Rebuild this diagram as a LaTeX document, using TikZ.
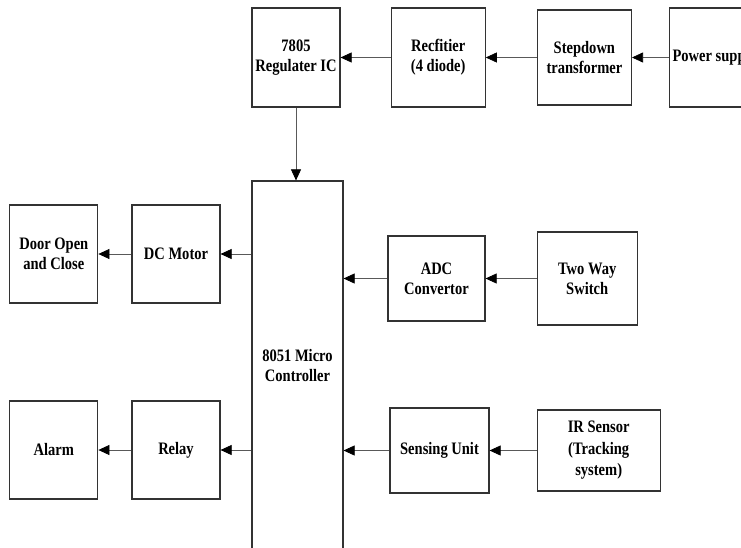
\documentclass[tikz,border=0pt]{standalone}
\usepackage{fontspec}
\setmainfont{Liberation Serif}
\newfontfamily\blockfont[FakeStretch=0.83]{Liberation Serif}
\usetikzlibrary{positioning, arrows.meta}

\begin{document}
\begin{tikzpicture}[
        x=1pt, y=-1pt,
        node distance=33pt,
        block/.style={rectangle, draw=black!80, line width=1.2pt, align=center, inner sep=3pt, font=\blockfont\bfseries\fontsize{17.5}{20}\selectfont},
        arrow/.style={draw=black!65, line width=0.7pt, -{Triangle[length=11pt, width=10pt, color=black]}}
    ]
    \useasboundingbox (0,0) rectangle (741,548);
    \clip (0,0) rectangle (741,548);

    \node[block, minimum width=88pt, minimum height=99pt] (reg) at (296,57.5) {7805\\Regulater IC};
    \node[block, minimum width=94pt, minimum height=99pt, right=50pt of reg] (rect) {Recfitier\\(4 diode)};
    \node[block, minimum width=94pt, minimum height=95pt, right=51pt of rect] (stepdown) {Stepdown\\transformer};
    \node[block, minimum width=90pt, minimum height=99pt, right=37pt of stepdown] (power) {Power supply};

    \node[block, minimum width=91pt, minimum height=370pt] (mcu) at (297.5,366) {8051 Micro\\Controller};

    \node[block, minimum width=88pt, minimum height=98pt] (motor) at (176,254) {DC Motor};
    \node[block, minimum width=88pt, minimum height=98pt, left=of motor] (door) {Door Open\\and Close};
    \node[block, minimum width=88pt, minimum height=98pt] (relay) at (176,450) {Relay};
    \node[block, minimum width=88pt, minimum height=98pt, left=of relay] (alarm) {Alarm};

    \node[block, minimum width=97pt, minimum height=85pt] (adc) at (436.5,278.5) {ADC\\Convertor};
    \node[block, minimum width=100pt, minimum height=93pt, right=51pt of adc] (switch) {Two Way\\Switch};
    \node[block, minimum width=99pt, minimum height=85pt] (sensing) at (439.5,450.5) {Sensing Unit};
    \node[block, minimum width=123pt, minimum height=81pt, right=47pt of sensing, font=\blockfont\bfseries\fontsize{17.5}{21.5}\selectfont] (ir) {IR Sensor\\(Tracking\\system)};

    \draw[arrow] (rect) -- (reg);
    \draw[arrow] (stepdown) -- (rect);
    \draw[arrow] (power) -- (stepdown);
    \draw[arrow] (reg.south) -- (reg.south |- mcu.north);
    \draw[arrow] (mcu.west |- motor) -- (motor);
    \draw[arrow] (motor) -- (door);
    \draw[arrow] (mcu.west |- relay) -- (relay);
    \draw[arrow] (relay) -- (alarm);
    \draw[arrow] (adc) -- (adc -| mcu.east);
    \draw[arrow] (switch) -- (adc);
    \draw[arrow] (sensing) -- (sensing -| mcu.east);
    \draw[arrow] (ir) -- (sensing);
\end{tikzpicture}
\end{document}
